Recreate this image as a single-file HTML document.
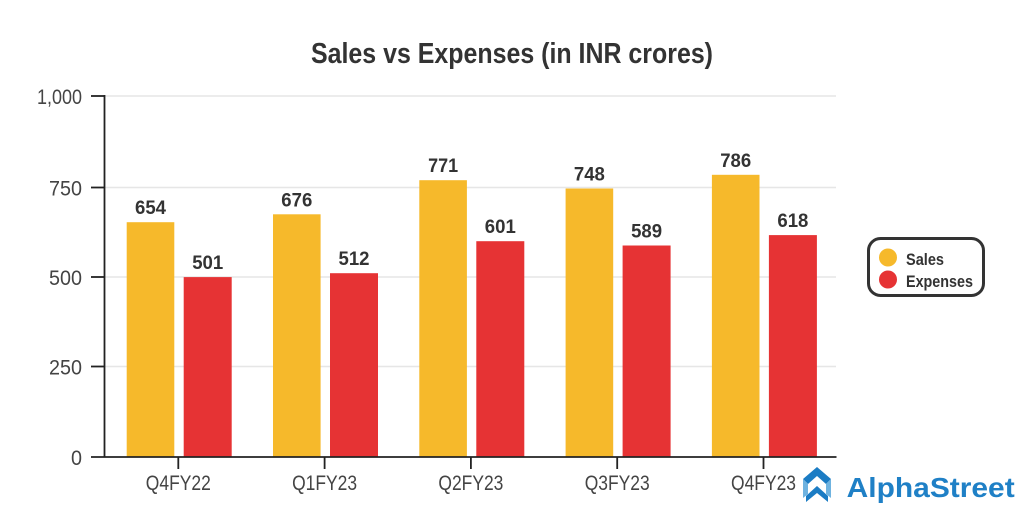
<!DOCTYPE html>
<html>
<head>
<meta charset="utf-8">
<style>
html,body{margin:0;padding:0;background:#fff;}
svg{display:block;}
text{font-family:"Liberation Sans",Arial,sans-serif;}
</style>
</head>
<body>
<svg width="1024" height="527" viewBox="0 0 1024 527" xmlns="http://www.w3.org/2000/svg">
  <rect width="1024" height="527" fill="#fff"/>
  <!-- Title -->
  <text x="311" y="63" font-size="29" font-weight="bold" fill="#333" textLength="402" lengthAdjust="spacingAndGlyphs">Sales vs Expenses (in INR crores)</text>

  <!-- gridlines -->
  <g stroke="#e6e6e6" stroke-width="1.5">
    <line x1="105" y1="96" x2="836" y2="96"/>
    <line x1="105" y1="187.5" x2="836" y2="187.5"/>
    <line x1="105" y1="277" x2="836" y2="277"/>
    <line x1="105" y1="366.5" x2="836" y2="366.5"/>
  </g>

  <!-- y labels -->
  <g font-size="21" fill="#444" text-anchor="end">
    <text x="82" y="104" textLength="45" lengthAdjust="spacingAndGlyphs">1,000</text>
    <text x="82" y="195.5" textLength="33" lengthAdjust="spacingAndGlyphs">750</text>
    <text x="82" y="285" textLength="33" lengthAdjust="spacingAndGlyphs">500</text>
    <text x="82" y="374.5" textLength="33" lengthAdjust="spacingAndGlyphs">250</text>
    <text x="82" y="465" textLength="11" lengthAdjust="spacingAndGlyphs">0</text>
  </g>

  <!-- bars -->
  <g fill="#F6B92B">
    <rect x="126.7" y="222.2" width="47.6" height="234.8"/>
    <rect x="273" y="214.3" width="47.6" height="242.7"/>
    <rect x="419.3" y="180.2" width="47.6" height="276.8"/>
    <rect x="565.6" y="188.5" width="47.6" height="268.5"/>
    <rect x="711.9" y="174.8" width="47.6" height="282.2"/>
  </g>
  <g fill="#E63334">
    <rect x="183.7" y="277.1" width="48" height="179.9"/>
    <rect x="330" y="273.2" width="48" height="183.8"/>
    <rect x="476.3" y="241.2" width="48" height="215.8"/>
    <rect x="622.6" y="245.5" width="48" height="211.5"/>
    <rect x="768.9" y="235.1" width="48" height="221.9"/>
  </g>

  <!-- value labels -->
  <g font-size="19.5" font-weight="bold" fill="#333" text-anchor="middle">
    <text x="150.5" y="214.2" textLength="31" lengthAdjust="spacingAndGlyphs">654</text>
    <text x="207.7" y="269.1" textLength="31" lengthAdjust="spacingAndGlyphs">501</text>
    <text x="296.8" y="206.3" textLength="31" lengthAdjust="spacingAndGlyphs">676</text>
    <text x="354" y="265.2" textLength="31" lengthAdjust="spacingAndGlyphs">512</text>
    <text x="443.1" y="172.2" textLength="30" lengthAdjust="spacingAndGlyphs">771</text>
    <text x="500.3" y="233.2" textLength="31" lengthAdjust="spacingAndGlyphs">601</text>
    <text x="589.4" y="180.5" textLength="31" lengthAdjust="spacingAndGlyphs">748</text>
    <text x="646.6" y="237.5" textLength="31" lengthAdjust="spacingAndGlyphs">589</text>
    <text x="735.7" y="166.8" textLength="31" lengthAdjust="spacingAndGlyphs">786</text>
    <text x="792.9" y="227.1" textLength="31" lengthAdjust="spacingAndGlyphs">618</text>
  </g>

  <!-- axes -->
  <g stroke="#222" stroke-width="1.8">
    <line x1="104.5" y1="95" x2="104.5" y2="457"/>
    <line x1="91" y1="457" x2="836.5" y2="457"/>
    <line x1="91" y1="96" x2="104.5" y2="96"/>
    <line x1="91" y1="187.5" x2="104.5" y2="187.5"/>
    <line x1="91" y1="277" x2="104.5" y2="277"/>
    <line x1="91" y1="366.5" x2="104.5" y2="366.5"/>
    <line x1="178.3" y1="457" x2="178.3" y2="469"/>
    <line x1="324.6" y1="457" x2="324.6" y2="469"/>
    <line x1="470.9" y1="457" x2="470.9" y2="469"/>
    <line x1="617.2" y1="457" x2="617.2" y2="469"/>
    <line x1="763.5" y1="457" x2="763.5" y2="469"/>
  </g>

  <!-- x labels -->
  <g font-size="21" fill="#444" text-anchor="middle">
    <text x="178.3" y="490" textLength="65" lengthAdjust="spacingAndGlyphs">Q4FY22</text>
    <text x="324.6" y="490" textLength="65" lengthAdjust="spacingAndGlyphs">Q1FY23</text>
    <text x="470.9" y="490" textLength="65" lengthAdjust="spacingAndGlyphs">Q2FY23</text>
    <text x="617.2" y="490" textLength="65" lengthAdjust="spacingAndGlyphs">Q3FY23</text>
    <text x="763.5" y="490" textLength="65" lengthAdjust="spacingAndGlyphs">Q4FY23</text>
  </g>

  <!-- legend -->
  <rect x="868.5" y="238.5" width="115" height="57" rx="12" ry="12" fill="#fff" stroke="#333" stroke-width="3"/>
  <circle cx="888" cy="257.5" r="9" fill="#F6B92B"/>
  <circle cx="888" cy="279.5" r="9" fill="#E63334"/>
  <g font-size="17" font-weight="bold" fill="#333">
    <text x="906" y="265" textLength="38" lengthAdjust="spacingAndGlyphs">Sales</text>
    <text x="906" y="287" textLength="67" lengthAdjust="spacingAndGlyphs">Expenses</text>
  </g>

  <!-- logo -->
  <g>
    <polygon points="803,479 817,467 831,479 826,484 817,476 808,484" fill="#1b7cc4"/>
    <polygon points="803,479 808,484 808,494 803,498" fill="#6fb3e0"/>
    <polygon points="831,479 826,484 826,494 831,498" fill="#6fb3e0"/>
    <polygon points="806,496 817,486 828,496 828,502 817,493 806,502" fill="#1b7cc4"/>
  </g>
  <text x="846.7" y="497" font-size="28" font-weight="bold" fill="#1f80c6" textLength="168" lengthAdjust="spacingAndGlyphs">AlphaStreet</text>
</svg>
</body>
</html>
